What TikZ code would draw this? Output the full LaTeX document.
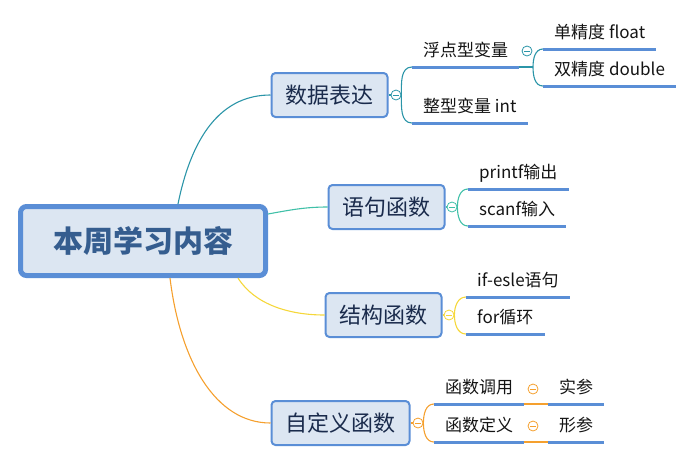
\documentclass[tikz,border=0pt]{standalone}
\usepackage{fontspec}
\setmainfont{Noto Sans CJK SC}
\usepackage{tikz}

\definecolor{boxfill}{HTML}{DCE6F2}
\definecolor{boxline}{HTML}{5A8ED6}
\definecolor{roottext}{HTML}{355D8F}
\definecolor{topictext}{HTML}{1A2B4C}
\definecolor{leaftext}{HTML}{141414}
\definecolor{tealA}{HTML}{2B95A8}
\definecolor{tealB}{HTML}{40C0A8}
\definecolor{yel}{HTML}{F5D73A}
\definecolor{org}{HTML}{F5A02E}

\tikzset{
    rootbox/.style={draw=boxline,fill=boxfill,line width=5pt,rounded corners=6pt,
        minimum width=245pt,minimum height=69pt,
        font=\fontsize{30}{34}\selectfont\bfseries,text=roottext},
    topic/.style={draw=boxline,fill=boxfill,line width=2pt,rounded corners=4pt,
        minimum height=44pt,inner xsep=14pt,
        font=\fontsize{22}{26}\selectfont,text=topictext},
    leaf/.style={anchor=south west,inner xsep=11pt,inner ysep=0pt,
        text height=13pt,text depth=10.5pt,
        font=\fontsize{17}{20}\selectfont,text=leaftext},
    uline/.style={draw=boxline,line width=3pt},
    conn/.style={draw=#1,line width=1.1pt},
    fold/.style={circle,draw=#1,fill=white,line width=0.8pt,minimum size=10pt,inner sep=0pt,
        path picture={\draw[#1,line width=0.8pt]
            ([xshift=-2.6pt]path picture bounding box.center) --
            ([xshift=2.6pt]path picture bounding box.center);}}
}

\begin{document}
\begin{tikzpicture}[x=1pt,y=-1pt]
    \useasboundingbox (0,0) rectangle (698,464);

    % root and main topics
    \node [rootbox] (root) at (143,241) {本周学习内容};
    \node [topic] (shuju) at (329.5,95) {数据表达};
    \node [topic] (yuju) at (386.5,207) {语句函数};
    \node [topic] (jiegou) at (383.5,315) {结构函数};
    \node [topic] (zidingyi) at (340.5,423) {自定义函数};

    \draw [conn=tealA] ([xshift=35pt]root.north) .. controls (193,130) and (225,95) .. (shuju.west);
    \draw [conn=tealB] ([yshift=27pt]root.east) .. controls (290,210) and (305,207) .. (yuju.west);
    \draw [conn=yel] ([xshift=95pt]root.south) .. controls (255,305) and (290,315) .. (jiegou.west);
    \draw [conn=org] ([xshift=27pt]root.south) .. controls (180,360) and (215,423) .. (zidingyi.west);

    % fold markers
    \node [fold=tealA] (f1) at (396,95) {};
    \node [fold=tealB] (f2) at (452,207) {};
    \node [fold=yel] (f3) at (449,315) {};
    \node [fold=org] (f4) at (418,423) {};
    \node [fold=tealA] (f11) at (527,51) {};
    \node [fold=org] (f41) at (533,389) {};
    \node [fold=org] (f42) at (533,426) {};

    % leaves
    \node [leaf] (fudian) at (412,67) {浮点型变量};
    \node [leaf] (zhengxing) at (412,123) {整型变量 int};
    \node [leaf] (danjd) at (543,49) {单精度 float};
    \node [leaf] (shuangjd) at (543,86) {双精度 double};
    \node [leaf] (printf) at (468,189) {printf输出};
    \node [leaf] (scanf) at (468,226) {scanf输入};
    \node [leaf] (ifelse) at (466,297) {if-esle语句};
    \node [leaf] (forxh) at (466,334) {for循环};
    \node [leaf] (diaoyong) at (434,404) {函数调用};
    \node [leaf] (dingyi) at (434,442) {函数定义};
    \node [leaf] (shican) at (548,404) {实参};
    \node [leaf] (xingcan) at (548,442) {形参};

    \draw [conn=tealA] (shuju.east) -- (f1.west);
    \draw [conn=tealB] (yuju.east) -- (f2.west);
    \draw [conn=yel] (jiegou.east) -- (f3.west);
    \draw [conn=org] (zidingyi.east) -- (f4.west);

    \draw [conn=tealA] (f1.east) to[out=90,in=180] (fudian.south west);
    \draw [conn=tealA] (f1.east) to[out=-90,in=180] (zhengxing.south west);
    \draw [conn=tealB] (f2.east) to[out=90,in=180] (printf.south west);
    \draw [conn=tealB] (f2.east) to[out=-90,in=180] (scanf.south west);
    \draw [conn=yel] (f3.east) to[out=90,in=180] (ifelse.south west);
    \draw [conn=yel] (f3.east) to[out=-90,in=180] (forxh.south west);
    \draw [conn=org] (f4.east) to[out=90,in=180] (diaoyong.south west);
    \draw [conn=org] (f4.east) to[out=-90,in=180] (dingyi.south west);

    \coordinate (k1) at (533,67);
    \draw [conn=tealA] (fudian.south east) -- (k1);
    \draw [conn=tealA] (k1) to[out=90,in=180] (danjd.south west);
    \draw [conn=tealA] (k1) to[out=-90,in=180] (shuangjd.south west);
    \draw [conn=org] (diaoyong.south east) -- (shican.south west);
    \draw [conn=org] (dingyi.south east) -- (xingcan.south west);

    \foreach \n in {fudian,zhengxing,danjd,shuangjd,printf,scanf,ifelse,forxh,diaoyong,dingyi,shican,xingcan}
        \draw [uline] (\n.south west) -- (\n.south east);
\end{tikzpicture}
\end{document}
